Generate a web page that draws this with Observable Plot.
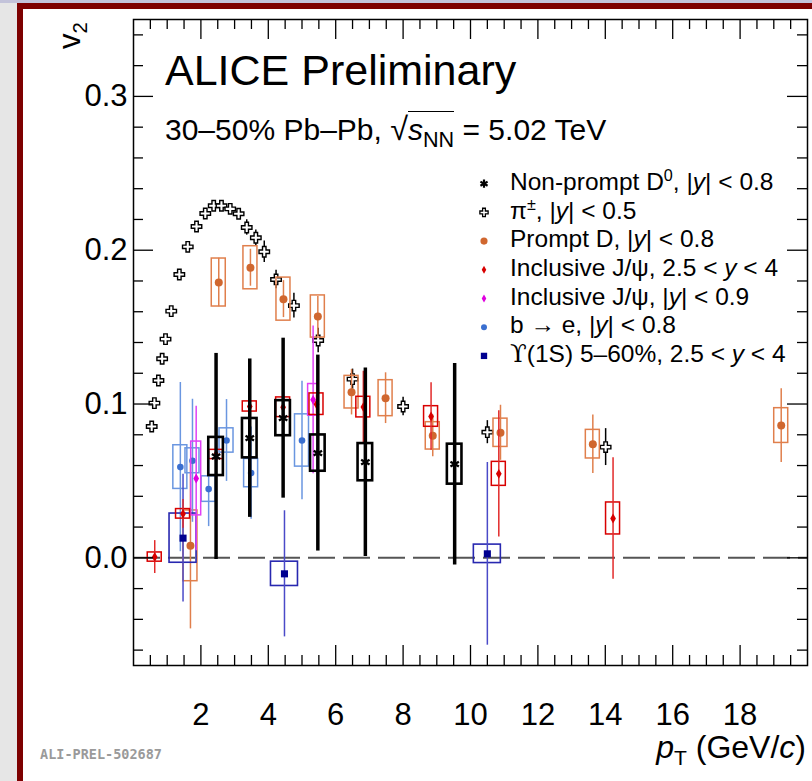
<!DOCTYPE html>
<html><head><meta charset="utf-8">
<script src="https://cdn.jsdelivr.net/npm/d3@7"></script>
<script src="https://cdn.jsdelivr.net/npm/@observablehq/plot@0.6"></script>
<style>
html,body{margin:0;padding:0;}
body{width:812px;height:781px;position:relative;overflow:hidden;background:#e6e6e6;font-family:"Liberation Sans",Arial,Helvetica,sans-serif;}
#topstrip{position:absolute;left:0;top:0;width:812px;height:3px;background:#c3c3da;}
#panel{position:absolute;left:17px;top:3px;width:795px;height:778px;background:#fff;border-left:6px solid #7d0000;border-top:6px solid #7d0000;box-sizing:border-box;}
#chart{position:absolute;left:0;top:0;}
#legsvg{position:absolute;left:0;top:0;}
.t{position:absolute;white-space:nowrap;color:#000;}
sup{font-size:0.66em;vertical-align:0.55em;line-height:0;}
sub{font-size:0.66em;vertical-align:-0.32em;line-height:0;}
.ov{border-top:1.6px solid #000;padding-top:1px;}
.ov sub{font-size:0.72em;}
.rad{font-size:1.08em;}
.ups{font-family:"DejaVu Serif",serif;}
</style></head><body>
<div id="topstrip"></div><div id="panel"></div>
<div id="chart"></div>
<svg id="legsvg" width="812" height="781"></svg>
<script>
// ---------------- data ----------------
// pi+- v2
const pionPt  = [0.54,0.62,0.74,0.85,0.95,1.12,1.36,1.61,1.87,2.13,2.38,2.61,2.87,3.12,3.36,3.63,3.88,4.23,4.76,5.48,6.50,8.00,10.50,14.01];
const pionV2  = [0.0854,0.1006,0.1153,0.1294,0.1422,0.1604,0.1842,0.2022,0.2154,0.2239,0.2289,0.2289,0.2269,0.2237,0.2148,0.2081,0.1990,0.1810,0.1640,0.1413,0.1162,0.0984,0.0817,0.0720];
const pionStat= [0.002,0.002,0.002,0.002,0.002,0.002,0.002,0.002,0.002,0.002,0.002,0.002,0.002,0.003,0.005,0.005,0.007,0.006,0.008,0.008,0.0065,0.006,0.0075,0.012];
// prompt D
const promptPt  = [1.69,2.53,3.47,4.45,5.47,6.47,7.48,8.88,10.89,13.63,19.22];
const promptV2  = [0.0078,0.1790,0.1886,0.1682,0.1569,0.1077,0.1038,0.0793,0.0813,0.0739,0.0860];
const promptStat= [0.054,0.0158,0.012,0.012,0.013,0.0148,0.0165,0.0135,0.0179,0.019,0.024];
const promptSyst= [0.023,0.0156,0.014,0.014,0.0137,0.0106,0.0117,0.0089,0.0092,0.0093,0.0113];
// non-prompt D0
const d0Pt  = [2.45,3.45,4.44,5.47,6.88,9.53];
const d0V2  = [0.0659,0.0778,0.0908,0.0681,0.0622,0.0609];
const d0Stat= [0.067,0.0515,0.052,0.0637,0.0613,0.0655];
const d0Syst= [0.0124,0.0128,0.0114,0.0118,0.0121,0.013];
// inclusive J/psi, 2.5<y<4
const jpsiFwdPt  = [0.63,1.47,2.45,3.45,4.44,5.43,6.82,8.83,10.84,14.23];
const jpsiFwdV2  = [0.0005,0.0286,0.0672,0.0984,0.0979,0.0999,0.0980,0.0919,0.0546,0.0256];
const jpsiFwdStat= [0.0107,0.0094,0.004,0.004,0.004,0.006,0.0233,0.022,0.041,0.0395];
const jpsiFwdSyst= [0.003,0.0031,0.003,0.0033,0.0064,0.007,0.0067,0.0067,0.0078,0.0104];
// inclusive J/psi, |y|<0.9
const jpsiMidPt  = [1.86,5.33];
const jpsiMidV2  = [0.0516,0.1027];
const jpsiMidStat= [0.047,0.048];
const jpsiMidSyst= [0.024,0.0103];
// b -> e
const bePt  = [1.39,1.75,2.23,2.76,3.49,5.00];
const beV2  = [0.0590,0.0631,0.0447,0.0763,0.0551,0.0763];
const beStat= [0.055,0.040,0.0244,0.0266,0.030,0.0385];
const beSyst= [0.0142,0.0081,0.0083,0.0079,0.0092,0.017];
// Upsilon(1S)
const upsPt  = [1.47,4.48,10.50];
const upsV2  = [0.0128,-0.0104,0.0026];
const upsStat= [0.0415,0.041,0.0594];
const upsSyst= [0.016,0.0079,0.006];
// axes ticks
const xTickLabels = [2,4,6,8,10,12,14,16,18];
const yTickLabels = [0.0,0.1,0.2,0.3];
const xDomain = [0,20];
const yDomain = [-0.07,0.35];
// legend entries
const legendLabels = [
  "Non-prompt D<sup>0</sup>, |<i>y</i>| &lt; 0.8",
  "π<sup>±</sup>, |<i>y</i>| &lt; 0.5",
  "Prompt D, |<i>y</i>| &lt; 0.8",
  "Inclusive J/ψ, 2.5 &lt; <i>y</i> &lt; 4",
  "Inclusive J/ψ, |<i>y</i>| &lt; 0.9",
  "b → e, |<i>y</i>| &lt; 0.8",
  '<span class="ups">ϒ</span>(1S) 5–60%, 2.5 &lt; <i>y</i> &lt; 4'
];

// ---------------- build ----------------
const rows = (pt, v, stat, syst) => pt.map((x,i)=>({x, v:v[i], lo:v[i]-stat[i], hi:v[i]+stat[i],
  s1: syst ? v[i]-syst[i] : null, s2: syst ? v[i]+syst[i] : null}));
const pion = rows(pionPt, pionV2, pionStat);
const prompt = rows(promptPt, promptV2, promptStat, promptSyst);
const d0 = rows(d0Pt, d0V2, d0Stat, d0Syst);
const jf = rows(jpsiFwdPt, jpsiFwdV2, jpsiFwdStat, jpsiFwdSyst);
const jm = rows(jpsiMidPt, jpsiMidV2, jpsiMidStat, jpsiMidSyst);
const be = rows(bePt, beV2, beStat, beSyst);
const ups = rows(upsPt, upsV2, upsStat, upsSyst);

const W=812, H=781, mL=133, mR=5, mT=19, mB=116;
const plotW = W-mL-mR, plotH = H-mT-mB;
const xMinor = d3.range(0.5, 20, 0.5).filter(d => d % 2 !== 0);
const xMajor = d3.range(2, 20, 2);
const yMinor = d3.range(-0.06, 0.345, 0.02).map(d=>+d.toFixed(2)).filter(d => Math.abs(Math.round(d*10)-d*10) > 1e-6);
const yMajor = [0,0.1,0.2,0.3];

const box = (data, color, half, sw) => Plot.rect(data, {x1:"x", x2:"x", y1:"s1", y2:"s2",
  insetLeft:-half, insetRight:-half, fill:"none", stroke:color, strokeWidth:sw});
const bar = (data, color, sw) => Plot.ruleX(data, {x:"x", y1:"lo", y2:"hi", stroke:color, strokeWidth:sw});

const C = {
  pD:"#d0672f", pDl:"#e07f4c",
  jf:"#d80000", jfl:"#e22a2a",
  jm:"#e000e0", jml:"#e040f5",
  be:"#3a6fd0", bel:"#6a96e0",
  up:"#000090", upl:"#4a4ac8", upb:"#2828b0"
};

const chart = Plot.plot({
  width: W, height: H,
  marginLeft: mL, marginRight: mR, marginTop: mT, marginBottom: mB,
  x: {domain: xDomain, label: null},
  y: {domain: yDomain, label: null},
  style: {background:"transparent", fontFamily:'"Liberation Sans", Arial, Helvetica, sans-serif', color:"#000"},
  marks: [
    // zero line
    Plot.ruleY([0], {stroke:"#555", strokeWidth:2, strokeDasharray:"27,8"}),
    // pions
    bar(pion, "#000", 1.5),
    Plot.dot(pion, {x:"x", y:"v", symbol:"cross", r:4.4, fill:"#fff", stroke:"#000", strokeWidth:1.4}),
    // prompt D
    box(prompt, C.pDl, 7, 1.5),
    bar(prompt, C.pDl, 1.5),
    Plot.dot(prompt, {x:"x", y:"v", r:4, fill:C.pD}),
    // b -> e
    box(be, C.bel, 7, 1.5),
    bar(be, C.bel, 1.5),
    Plot.dot(be, {x:"x", y:"v", r:3.3, fill:C.be}),
    // Upsilon
    box(ups, C.upb, 13.5, 1.6),
    bar(ups, C.upl, 1.5),
    Plot.dot(ups, {x:"x", y:"v", symbol:"square", r:4, fill:C.up}),
    // J/psi mid
    box(jm, C.jml, 5, 1.5),
    bar(jm, C.jml, 1.5),
    Plot.dot(jm, {x:"x", y:"v", symbol:"diamond", r:3, fill:C.jm}),
    // J/psi fwd
    box(jf, C.jf, 7, 1.5),
    bar(jf, C.jfl, 1.5),
    Plot.dot(jf, {x:"x", y:"v", symbol:"diamond", r:3, fill:C.jf}),
    // non-prompt D0
    box(d0, "#000", 7.3, 2.6),
    bar(d0, "#000", 3.5),
    Plot.dot(d0, {x:"x", y:"v", symbol:"asterisk", r:4.6, stroke:"#000", strokeWidth:2.3}),
    // ticks (inside the frame, on all four sides)
    Plot.ruleX(xMinor, {insetTop: plotH-10, stroke:"#000", strokeWidth:1.3}),
    Plot.ruleX(xMinor, {insetBottom: plotH-10, stroke:"#000", strokeWidth:1.3}),
    Plot.ruleX(xMajor, {insetTop: plotH-20, stroke:"#000", strokeWidth:1.3}),
    Plot.ruleX(xMajor, {insetBottom: plotH-20, stroke:"#000", strokeWidth:1.3}),
    Plot.ruleY(yMinor, {insetRight: plotW-10, stroke:"#000", strokeWidth:1.3}),
    Plot.ruleY(yMinor, {insetLeft: plotW-10, stroke:"#000", strokeWidth:1.3}),
    Plot.ruleY(yMajor, {insetRight: plotW-20, stroke:"#000", strokeWidth:1.3}),
    Plot.ruleY(yMajor, {insetLeft: plotW-20, stroke:"#000", strokeWidth:1.3}),
    Plot.axisX(xTickLabels, {tickSize:0, tickPadding:37, fontSize:31, label:null}),
    Plot.axisY(yTickLabels, {tickSize:0, tickPadding:6, fontSize:31, tickFormat: d3.format(".1f"), label:null}),
    Plot.frame({stroke:"#000", strokeWidth:1.5})
  ]
});
document.getElementById("chart").appendChild(chart);

// ---------------- text overlays ----------------
// place a text div so that its baseline lies at `baseline` (Liberation Sans metrics)
function addText(html, left, baseline, fs, extra, lh) {
  lh = lh || 1;
  const d = document.createElement("div");
  d.className = "t";
  d.innerHTML = html;
  d.style.left = left + "px";
  d.style.lineHeight = lh;
  d.style.top = (baseline - ((lh - 1.117)/2 + 0.905)*fs) + "px";
  d.style.fontSize = fs + "px";
  if (extra) Object.assign(d.style, extra);
  document.body.appendChild(d);
  return d;
}
addText("ALICE Preliminary", 165, 85, 43);
addText('30–50% Pb–Pb, <span class="rad">√</span><span class="ov"><i>s</i><sub>NN</sub></span> = 5.02 TeV', 165, 138, 30);
// y label v2 (rotated)
addText("v<sub>2</sub>", 54, 0, 31, {top:"49px", left:"54px", transformOrigin:"0 0", transform:"rotate(-90deg)"});
// x label
const xl = addText("<i>p</i><sub>T</sub> (GeV/<i>c</i>)", 0, 759, 32, null, 0.8);
xl.style.left = (806 - xl.getBoundingClientRect().width) + "px";
// preliminary tag
addText("ALI-PREL-502687", 40, 759, 13.5, {fontFamily:'"DejaVu Sans Mono","Liberation Mono",monospace', fontWeight:"bold", color:"#9a9a9a"});

// legend
const legX = 484, legText = 510, legBase0 = 190.7, legStep = 28.7;
legendLabels.forEach((lab,i) => addText(lab, legText, legBase0 + i*legStep, 24.5));
const lsvg = d3.select("#legsvg");
const legSym = [
  {sym:d3.symbolAsterisk, size:48, fill:"none", stroke:"#000", sw:2.2},
  {sym:d3.symbolCross, size:38, fill:"#fff", stroke:"#000", sw:1.3},
  {sym:d3.symbolCircle, size:40, fill:C.pD, stroke:"none", sw:0},
  {sym:d3.symbolDiamond, size:18, fill:C.jf, stroke:"none", sw:0},
  {sym:d3.symbolDiamond, size:18, fill:C.jm, stroke:"none", sw:0},
  {sym:d3.symbolCircle, size:28, fill:C.be, stroke:"none", sw:0},
  {sym:d3.symbolSquare, size:40, fill:C.up, stroke:"none", sw:0}
];
legSym.forEach((s,i) => {
  lsvg.append("path")
    .attr("d", d3.symbol(s.sym, s.size)())
    .attr("transform", `translate(${legX},${legBase0 + i*legStep - 7})`)
    .attr("fill", s.fill).attr("stroke", s.stroke).attr("stroke-width", s.sw);
});
</script>
</body></html>
